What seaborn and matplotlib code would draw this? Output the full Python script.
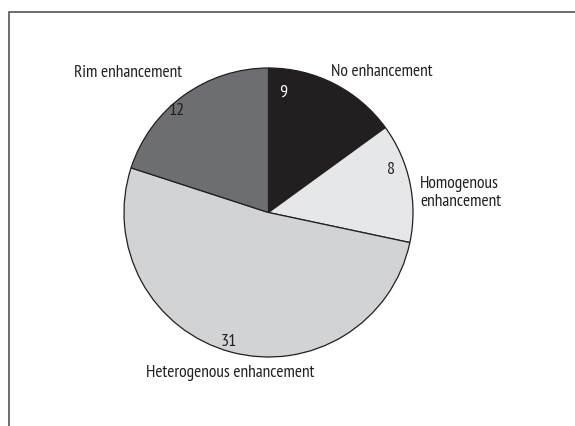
import matplotlib
matplotlib.use("Agg")
import matplotlib.pyplot as plt
import seaborn as sns
from matplotlib import font_manager

sns.set_theme(style="white")

categories = ["No enhancement", "Homogenous\nenhancement", "Heterogenous enhancement", "Rim enhancement"]
values = [9, 8, 31, 12]
colors = ["#231f20", "#e6e7e8", "#d1d3d4", "#6d6e71"]

names = {f.name for f in font_manager.fontManager.ttflist}
prefs = ["PT Sans Narrow", "Fira Sans Condensed", "Asap Condensed", "Roboto Condensed",
         "Open Sans Condensed", "Archivo Narrow", "Encode Sans Condensed",
         "IBM Plex Sans Condensed", "Barlow Semi Condensed", "Liberation Sans Narrow"]
fam = next((p for p in prefs if p in names), "Roboto")
plt.rcParams["font.family"] = [fam, "DejaVu Sans"]

W, H = 575, 426
fig = plt.figure(figsize=(W / 100, H / 100), dpi=100)
ax = fig.add_axes([0, 0, 1, 1])

cx, cy, R = 268.5, H - 212.5, 144.5
wedges, _ = ax.pie(values, colors=colors, startangle=90, counterclock=False,
                   center=(cx, cy), radius=R, frame=True,
                   wedgeprops=dict(edgecolor="#231f20", linewidth=0.9))
ax.set_xlim(0, W)
ax.set_ylim(0, H)
ax.set_aspect("equal")
ax.axis("off")

tc = "#231f20"
fs = 12.5
num_pos = [(283, 93), (391, 170), (229, 342), (177, 111)]
num_col = ["white", tc, tc, tc]
for v, (x, y), c in zip(values, num_pos, num_col):
    ax.text(x, H - y, str(v), color=c, fontsize=fs + 0.5, ha="center", va="center")

lab_pos = [(382, 72, "center"), (420, 193, "left"), (230, 373, "center"), (128, 73, "center")]
for name, (x, y, ha) in zip(categories, lab_pos):
    ax.text(x, H - y, name, color=tc, fontsize=fs, ha=ha, va="center", linespacing=1.15)

ax.plot([8.5, 8.5, W + 5], [-5, H - 11.5, H - 11.5], color="#555555", linewidth=1.2,
        solid_joinstyle="miter", clip_on=False)

fig.savefig("out.png", dpi=100)
